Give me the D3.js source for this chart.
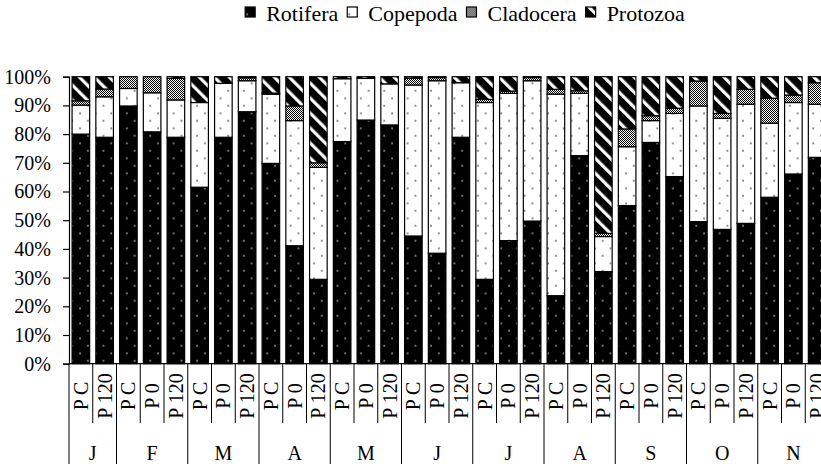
<!DOCTYPE html>
<html><head><meta charset="utf-8">
<script src="https://cdn.jsdelivr.net/npm/d3@7"></script>
<style>body{margin:0;background:#fff}svg{display:block}svg text{font-family:"Liberation Serif","Times New Roman",serif !important;fill:#000}</style>
</head><body>
<svg id="chart" width="821" height="464"></svg>
<script>
const months = ["J","F","M","A","M","J","J","A","S","O","N"];
const barMonth = [0,0,1,1,1,2,2,2,3,3,3,4,4,4,5,5,5,6,6,6,7,7,7,8,8,8,9,9,9,10,10,10];
const barTreatment = ["P C","P 120","P C","P 0","P 120","P C","P 0","P 120","P C","P 0","P 120","P C","P 0","P 120","P C","P 0","P 120","P C","P 0","P 120","P C","P 0","P 120","P C","P 0","P 120","P C","P 0","P 120","P C","P 0","P 120"];
const seriesNames = ["Rotifera","Copepoda","Cladocera","Protozoa"];
const rotifera  = [80.0,78.9,89.8,80.8,78.9,61.5,78.9,87.8,69.8,41.1,29.4,77.4,84.9,83.2,44.5,38.5,78.9,29.4,42.9,49.7,23.7,72.5,32.1,55.1,77.1,65.2,49.5,46.8,48.9,58.0,66.1,71.9];
const copepoda  = [10.1,14.1,6.1,13.6,13.0,29.5,18.8,10.8,24.1,43.6,39.0,21.9,14.5,14.3,52.6,60.1,19.0,61.6,51.3,48.9,70.2,21.7,12.2,20.5,7.6,22.0,40.3,38.7,41.5,25.8,24.9,18.5];
const cladocera = [1.5,2.7,4.1,5.6,7.5,0,0,1.0,0.4,5.1,1.6,0,0,0,2.4,1.1,0,1.1,0.8,1.1,1.7,0.9,1.1,6.2,1.7,1.8,8.7,1.7,5.2,8.7,2.6,7.5];
const protozoa  = [8.4,4.3,0,0,0.6,9.0,2.3,0.4,5.7,10.2,30.0,0.7,0.6,2.5,0.5,0.3,2.1,7.9,5.0,0.3,4.4,4.9,54.6,18.2,13.6,11.0,1.5,12.8,4.4,7.5,6.4,2.1];
const yTicks = [0,10,20,30,40,50,60,70,80,90,100];

const SERIF = '"Liberation Serif","Times New Roman",serif';
const svg = d3.select("#chart");
const defs = svg.append("defs");

function dotPattern(id, bg, fg){
  const p = defs.append("pattern").attr("id", id).attr("patternUnits","userSpaceOnUse")
    .attr("x", 76.1).attr("y", 214.5).attr("width", 15.6).attr("height", 15);
  p.append("rect").attr("width",15.6).attr("height",15).attr("fill",bg);
  p.append("rect").attr("x",3.3).attr("y",3.2).attr("width",1.3).attr("height",1.3).attr("fill",fg);
  p.append("rect").attr("x",11.1).attr("y",10.7).attr("width",1.3).attr("height",1.3).attr("fill",fg);
}
dotPattern("pRot","#000","#fff");
dotPattern("pCop","#fff","#000");
const pc = defs.append("pattern").attr("id","pClad").attr("patternUnits","userSpaceOnUse").attr("width",2).attr("height",2);
pc.append("rect").attr("width",2).attr("height",2).attr("fill","#fff");
pc.append("rect").attr("width",1).attr("height",1).attr("fill","#000");
pc.append("rect").attr("x",1).attr("y",1).attr("width",1).attr("height",1).attr("fill","#000");
const pp = defs.append("pattern").attr("id","pProt").attr("patternUnits","userSpaceOnUse")
  .attr("width",10.6).attr("height",10.6).attr("patternTransform","rotate(-45)");
pp.append("rect").attr("width",10.6).attr("height",10.6).attr("fill","#000");
pp.append("rect").attr("x",0).attr("width",3.2).attr("height",10.6).attr("fill","#fff");
const fills = {Rotifera:"url(#pRot)",Copepoda:"url(#pCop)",Cladocera:"url(#pClad)",Protozoa:"url(#pProt)"};

const x0 = 69, x1 = 69 + 32*23.75;
const yTop = 76.7, yBot = 363.7;
const x = d3.scaleBand().domain(d3.range(32)).range([x0, x1]).paddingInner(0.26).paddingOuter(0.13);
const y = d3.scaleLinear().domain([0,100]).range([yBot, yTop]);

const rows = d3.range(32).map(i => ({i, Rotifera:rotifera[i], Copepoda:copepoda[i], Cladocera:cladocera[i], Protozoa:protozoa[i]}));
const stacked = d3.stack().keys(seriesNames)(rows);

const gBars = svg.append("g");
stacked.forEach(s => {
  gBars.selectAll(null).data(s.filter(d => d[1]-d[0] > 0)).enter().append("rect")
    .attr("x", d => x(d.data.i)).attr("width", x.bandwidth())
    .attr("y", d => y(d[1])).attr("height", d => y(d[0]) - y(d[1]))
    .attr("fill", fills[s.key]).attr("stroke","#000").attr("stroke-width",1.2);
});

const yAxis = svg.append("g").attr("transform",`translate(${x0},0)`)
  .call(d3.axisLeft(y).tickValues(yTicks).tickFormat(d => d + "%").tickSize(6).tickPadding(12))
  .attr("font-family", SERIF).attr("font-size", 20);
yAxis.select(".domain").attr("stroke","#000").attr("stroke-width",1.2);
yAxis.selectAll(".tick line").attr("stroke","#000").attr("stroke-width",1.2);
yAxis.selectAll(".tick text").attr("font-size",20).attr("font-family",SERIF);

svg.append("line").attr("x1",x0).attr("x2",x1).attr("y1",yBot).attr("y2",yBot).attr("stroke","#000").attr("stroke-width",1.2);

const bounds = d3.range(33).map(k => x0 + k*x.step());
svg.append("g").selectAll("line").data(bounds).enter().append("line")
  .attr("x1", d => d).attr("x2", d => d).attr("y1", yBot)
  .attr("y2", (d,k) => (k === 0 || k === 32 || barMonth[k] !== barMonth[k-1]) ? 470 : 423)
  .attr("stroke","#000").attr("stroke-width",1);

svg.append("g").selectAll("text").data(barTreatment).enter().append("text")
  .attr("transform", (d,i) => `translate(${x(i)+x.bandwidth()/2},396) rotate(-90)`)
  .attr("text-anchor","middle").attr("dominant-baseline","central")
  .attr("font-family",SERIF).attr("font-size",20).text(d => d);

svg.append("g").selectAll("text").data(months).enter().append("text")
  .attr("x", (m,j) => {
    const idx = d3.range(32).filter(i => barMonth[i] === j);
    return (x0 + idx[0]*x.step() + x0 + (idx[idx.length-1]+1)*x.step())/2;
  })
  .attr("y", 460).attr("text-anchor","middle").attr("font-family",SERIF).attr("font-size",20).text(d => d);

const lg = svg.append("g");
let cx = 0;
seriesNames.forEach((n, k) => {
  const g = lg.append("g");
  g.append("rect").attr("x",0).attr("y",-14).attr("width",10).attr("height",10)
    .attr("fill", fills[n]).attr("stroke","#000").attr("stroke-width",1.2);
  const t = g.append("text").attr("x",21).attr("y",0).attr("font-family",SERIF).attr("font-size",22).text(n);
  const w = 21 + t.node().getComputedTextLength();
  g.attr("transform",`translate(${cx},0)`);
  cx += w + 9;
});
const totalW = cx - 9;
lg.attr("transform",`translate(${465 - totalW/2},21)`);
</script>
</body></html>
